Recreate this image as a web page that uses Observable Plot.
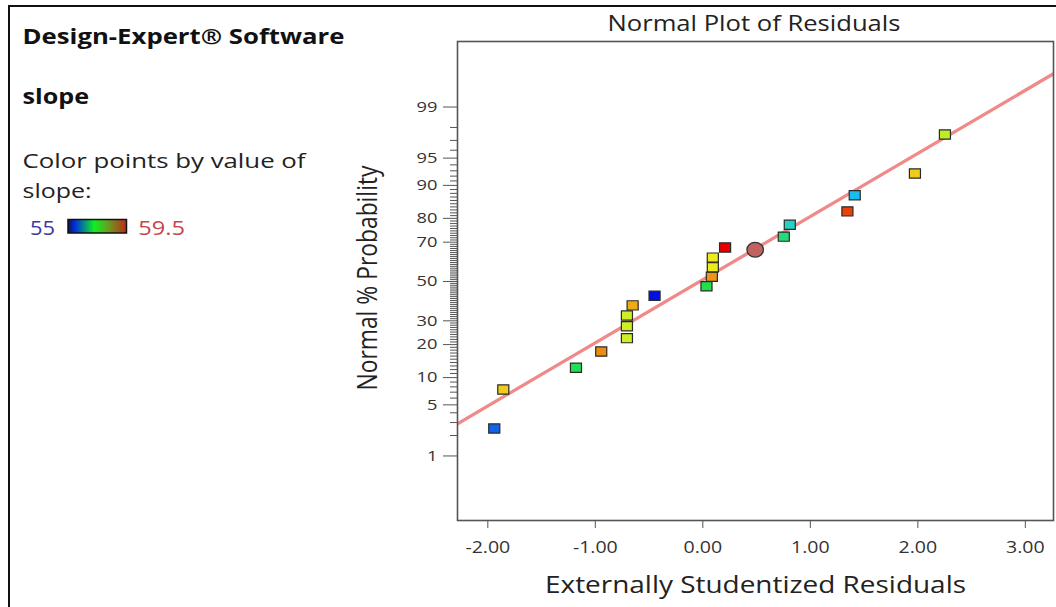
<!DOCTYPE html>
<html>
<head>
<meta charset="utf-8">
<script src="https://cdn.jsdelivr.net/npm/d3@7"></script>
<script src="https://cdn.jsdelivr.net/npm/@observablehq/plot@0.6"></script>
<style>
  html, body { margin: 0; padding: 0; background: #fff; width: 1056px; height: 607px; overflow: hidden; }
  #wrap { position: relative; width: 1056px; height: 607px; }
  #chart { position: absolute; left: 0; top: 0; }
  #side { position: absolute; left: 0; top: 0; }
  .border { position: absolute; left: 7.5px; top: 5px; width: 1100px; height: 700px;
            border-left: 2.5px solid #111; border-top: 2.5px solid #111; pointer-events: none; }
</style>
</head>
<body>
<div id="wrap">
  <div id="chart"></div>
  <svg id="side" width="440" height="260"></svg>
  <div class="border"></div>
</div>
<script>
// ---------- data ----------
const residuals     = [-1.94, -1.856, -1.18, -0.945, -0.706, -0.706, -0.706, -0.653, -0.449, 0.034,
                        0.084, 0.093, 0.093, 0.207, 0.753, 0.809, 1.345, 1.413, 1.973, 2.252];
const probabilities = [2.5, 7.5, 12.5, 17.5, 22.5, 27.5, 32.5, 37.5, 42.5, 47.5,
                       52.5, 57.5, 62.5, 67.5, 72.5, 77.5, 82.5, 87.5, 92.5, 97.5];
const slopes        = [55.5, 58.55, 57.1, 58.85, 58.2, 58.2, 58.2, 58.7, 55.0, 57.2,
                       58.8, 58.4, 58.4, 59.5, 56.9, 56.4, 59.2, 56.0, 58.55, 58.1];
const lineResidual    = [-2.282, 3.262];
const lineProbability = [2.89, 99.72];
const highlightResidual    = [0.487];
const highlightProbability = [66.4];
const xTicks       = [-2, -1, 0, 1, 2, 3];
const yMajorTicks  = [1, 5, 10, 20, 30, 50, 70, 80, 90, 95, 99];
const colorDomain  = [55, 59.5];
const titleText  = "Normal Plot of Residuals";
const xLabel     = "Externally Studentized Residuals";
const yLabel     = "Normal % Probability";
const sideTitle  = "Design-Expert® Software";
const sideResp   = "slope";
const sideNote   = ["Color points by value of", "slope:"];

// ---------- helpers ----------
function probit(p) {
  const a = [-3.969683028665376e+01, 2.209460984245205e+02, -2.759285104469687e+02, 1.383577518672690e+02, -3.066479806614716e+01, 2.506628277459239e+00];
  const b = [-5.447609879822406e+01, 1.615858368580409e+02, -1.556989798598866e+02, 6.680131188771972e+01, -1.328068155288572e+01];
  const c = [-7.784894002430293e-03, -3.223964580411365e-01, -2.400758277161838e+00, -2.549732539343734e+00, 4.374664141464968e+00, 2.938163982698783e+00];
  const d = [7.784695709041462e-03, 3.224671290700398e-01, 2.445134137142996e+00, 3.754408661907416e+00];
  const pl = 0.02425, ph = 1 - pl;
  let q, r;
  if (p < pl) { q = Math.sqrt(-2 * Math.log(p)); return (((((c[0]*q+c[1])*q+c[2])*q+c[3])*q+c[4])*q+c[5]) / ((((d[0]*q+d[1])*q+d[2])*q+d[3])*q+1); }
  if (p <= ph) { q = p - 0.5; r = q*q; return (((((a[0]*r+a[1])*r+a[2])*r+a[3])*r+a[4])*r+a[5])*q / (((((b[0]*r+b[1])*r+b[2])*r+b[3])*r+b[4])*r+1); }
  q = Math.sqrt(-2 * Math.log(1 - p)); return -(((((c[0]*q+c[1])*q+c[2])*q+c[3])*q+c[4])*q+c[5]) / ((((d[0]*q+d[1])*q+d[2])*q+d[3])*q+1);
}
const zOf = pct => probit(pct / 100);

const points = residuals.map((r, i) => ({residual: r, prob: probabilities[i], slope: slopes[i]}));
const lineData = lineResidual.map((r, i) => ({residual: r, prob: lineProbability[i]}));
const highlight = highlightResidual.map((r, i) => ({residual: r, prob: highlightProbability[i]}));

const majorZ = yMajorTicks.map(zOf);
const labelOf = new Map(yMajorTicks.map(p => [zOf(p), String(p)]));
const minorZ = d3.range(1, 100).filter(p => !yMajorTicks.includes(p)).map(zOf);

const rainbow = d3.piecewise(d3.interpolateRgb, ["#0010e0", "#20d0f0", "#20e040", "#f0f020", "#e80000"]);
// slightly wide rectangle (the reference is stretched horizontally)
const rectSymbol = {
  draw(ctx, size) {
    const h = Math.sqrt(size / 1.2), w = 1.2 * h;
    ctx.rect(-w / 2, -h / 2, w, h);
  }
};
// ellipse, wider than tall
const ellipseSymbol = {
  draw(ctx, size) {
    const r = Math.sqrt(size / Math.PI), rx = r * 1.06, ry = r * 0.94, k = 0.5523;
    ctx.moveTo(rx, 0);
    ctx.bezierCurveTo(rx, ry * k, rx * k, ry, 0, ry);
    ctx.bezierCurveTo(-rx * k, ry, -rx, ry * k, -rx, 0);
    ctx.bezierCurveTo(-rx, -ry * k, -rx * k, -ry, 0, -ry);
    ctx.bezierCurveTo(rx * k, -ry, rx, -ry * k, rx, 0);
    ctx.closePath();
  }
};

const font = '"Open Sans", "Noto Sans", sans-serif';
const stretch = 1.22;

const chart = Plot.plot({
  width: 1056,
  height: 607,
  marginLeft: 457,
  marginRight: 3,
  marginTop: 41,
  marginBottom: 87,
  style: {fontFamily: font, fontSize: "15px", color: "#333", background: "transparent", overflow: "visible"},
  x: {domain: [-2.282, 3.262], label: null},
  y: {domain: [-3.187, 3.2], label: null},
  color: {type: "linear", domain: colorDomain, interpolate: rainbow},
  marks: [
    Plot.axisY({ticks: minorZ, tickSize: 7, tickFormat: () => "", stroke: "#555", label: null}),
    Plot.axisY({ticks: majorZ, tickSize: 14, tickPadding: 6, tickFormat: z => labelOf.get(z), stroke: "#555", fill: "#333", fontSize: 15, label: null}),
    Plot.axisX({ticks: xTicks, tickSize: 8, tickPadding: 13, tickFormat: d => d.toFixed(2), stroke: "#555", fill: "#333", fontSize: 16, label: null}),
    Plot.line(lineData, {x: "residual", y: d => zOf(d.prob), stroke: "#f08a8a", strokeWidth: 3.3, clip: true}),
    Plot.dot(points, {x: "residual", y: d => zOf(d.prob), fill: "slope", stroke: "#2a2a2a", strokeWidth: 1.2, symbol: rectSymbol, r: 5.7}),
    Plot.dot(highlight, {x: "residual", y: d => zOf(d.prob), r: 7.8, fill: "#c06262", stroke: "#333", strokeWidth: 1.3, symbol: ellipseSymbol}),
    Plot.frame({stroke: "#555", strokeWidth: 1.6}),
    Plot.text([titleText], {frameAnchor: "top", lineAnchor: "middle", dx: -1.5, dy: -17, fontSize: 21, fill: "#222"}),
    Plot.text([xLabel], {frameAnchor: "bottom", lineAnchor: "middle", dy: 65, fontSize: 23, fill: "#222"}),
    Plot.text([yLabel], {frameAnchor: "left", lineAnchor: "middle", textAnchor: "middle", dx: -89, dy: -3, rotate: -90, fontSize: 27, fill: "#222"})
  ]
});
document.getElementById("chart").append(chart);

// mimic the horizontal stretch of the reference rendering
const fixedLength = new Map([[yLabel, 225], [titleText, 293], [xLabel, 421]]);
d3.select(chart).selectAll("text").each(function() {
  const t = this.textContent;
  if (!t) return;
  const len = fixedLength.has(t) ? fixedLength.get(t) : this.getComputedTextLength() * stretch;
  d3.select(this).attr("textLength", len).attr("lengthAdjust", "spacingAndGlyphs");
});

// ---------- side panel (legend / caption) ----------
const side = d3.select("#side").style("font-family", font);
const grad = side.append("defs").append("linearGradient").attr("id", "lg");
[["0%", "#101060"], ["12%", "#0030e0"], ["45%", "#10f020"], ["70%", "#6a9a20"], ["100%", "#c02818"]]
  .forEach(([o, c]) => grad.append("stop").attr("offset", o).attr("stop-color", c));
function sideText(x, y, txt, opts, len) {
  const el = side.append("text").attr("x", x).attr("y", y).attr("font-size", opts.size)
    .attr("font-weight", opts.weight || 400).attr("fill", opts.fill).text(txt);
  el.attr("textLength", len).attr("lengthAdjust", "spacingAndGlyphs");
  return el;
}
sideText(22.5, 43.5, sideTitle, {size: 21, weight: 700, fill: "#111"}, 322);
sideText(22.5, 104, sideResp, {size: 21, weight: 700, fill: "#111"}, 66.5);
sideText(22.5, 167.5, sideNote[0], {size: 20.5, fill: "#222"}, 283);
sideText(22.5, 198, sideNote[1], {size: 20.5, fill: "#222"}, 69);
sideText(30, 235, String(colorDomain[0]), {size: 20.5, fill: "#3a3a9e"}, 25);
side.append("rect").attr("x", 68).attr("y", 219.5).attr("width", 58.5).attr("height", 13.5)
  .attr("fill", "url(#lg)").attr("stroke", "#111").attr("stroke-width", 1.5);
sideText(138.3, 235, String(colorDomain[1]), {size: 20.5, fill: "#c84646"}, 46.7);
</script>
</body>
</html>
